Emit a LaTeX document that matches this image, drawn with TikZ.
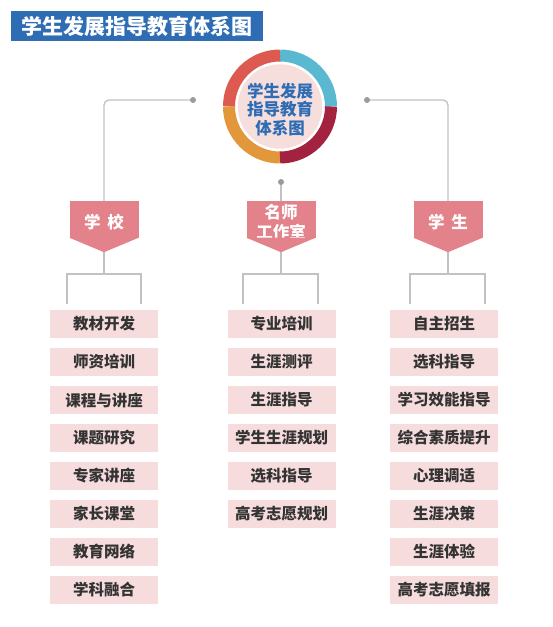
\documentclass[tikz,border=0pt]{standalone}
\usepackage{fontspec}
\setmainfont{Noto Sans CJK SC}
\definecolor{titleblue}{HTML}{2E6DB4}
\definecolor{ringred}{HTML}{DC5A4F}
\definecolor{ringteal}{HTML}{5BB8D1}
\definecolor{ringwine}{HTML}{A2223F}
\definecolor{ringorange}{HTML}{E1973A}
\definecolor{hubpink}{HTML}{F6DEDD}
\definecolor{tagpink}{HTML}{E3828A}
\definecolor{itempink}{HTML}{F6DCDC}
\definecolor{linegray}{HTML}{C2C2C2}
\definecolor{dotgray}{HTML}{9B9B9B}
\definecolor{itemtext}{HTML}{333333}
\newcommand{\low}[1]{\raisebox{-3pt}[\height][\depth]{#1}}
\begin{document}
\begin{tikzpicture}[x=1pt,y=1pt,
  link/.style={draw=linegray, line width=1.3pt},
  tag/.style={fill=tagpink, text=white, minimum width=69pt, minimum height=37pt,
    inner sep=0pt, align=center, font=\fontsize{16.5}{20}\selectfont\bfseries},
  item/.style={fill=itempink, text=itemtext, minimum width=108pt, minimum height=28pt,
    inner sep=0pt, font=\fontsize{15.5}{18}\selectfont\bfseries}]
  \useasboundingbox (0,0) rectangle (553,627);
  % Title bar
  \node[fill=titleblue, text=white, minimum width=252pt, minimum height=30pt, inner sep=0pt,
    font=\fontsize{21}{24}\selectfont\bfseries] (title) at (137,601) {学生发展指导教育体系图};
  % Hub with ring
  \node[circle, fill=hubpink, minimum size=82pt, inner sep=0pt, text=titleblue, align=center,
    font=\fontsize{16.5}{18.5}\selectfont\bfseries] (hub) at (280,520.5)
    {\low{学生发展}\\\low{指导教育}\\\low{体系图}};
  \foreach \c/\a in {ringteal/0, ringred/90, ringorange/180, ringwine/270}
    \draw[\c, line width=12pt] (hub.center) ++(\a:51) arc (\a:\a+90:51);
  % Tags
  \node[tag] (school) at (104,407.5) {\low{学\hspace{0.4em}校}};
  \node[tag] (studio) at (281,407.5) {\low{名师}\\\low{工作室}};
  \node[tag] (student) at (448,407.5) {\low{学\hspace{0.4em}生}};
  \foreach \n in {school,studio,student} {
    \coordinate (\n-tip) at ([yshift=-14pt]\n.south);
    \fill[tagpink] ([yshift=0.5pt]\n.south west) -- ([yshift=0.5pt]\n.south east) -- (\n-tip) -- cycle;
  }
  % Links from hub
  \coordinate (hubL) at (193,527);
  \coordinate (hubR) at (367,527);
  \coordinate (hubM) at (281,445);
  \draw[link, rounded corners=5pt] (hubL) -| (school.north);
  \draw[link, rounded corners=5pt] (hubR) -| (student.north);
  \draw[link] (hubM) -- (studio.north);
  \foreach \p in {hubL,hubR,hubM} \fill[dotgray] (\p) circle (3pt);
  % Brackets
  \foreach \n/\l/\r in {school/67/141, studio/243/318, student/410/485} {
    \draw[link] (\n-tip) -- ++(0,-22);
    \draw[link] (\l,323) |- (\r,353) -- (\r,323);
  }
  % Items
  \foreach \t [count=\i] in {教材开发,师资培训,课程与讲座,课题研究,专家讲座,家长课堂,教育网络,学科融合}
    \node[item] (school-\i) at (104,{303-38*(\i-1)}) {\t};
  \foreach \t [count=\i] in {专业培训,生涯测评,生涯指导,学生生涯规划,选科指导,高考志愿规划}
    \node[item] (studio-\i) at (281.5,{303-38*(\i-1)}) {\t};
  \foreach \t [count=\i] in {自主招生,选科指导,学习效能指导,综合素质提升,心理调适,生涯决策,生涯体验,高考志愿填报}
    \node[item] (student-\i) at (444,{303-38*(\i-1)}) {\t};
\end{tikzpicture}
\end{document}
